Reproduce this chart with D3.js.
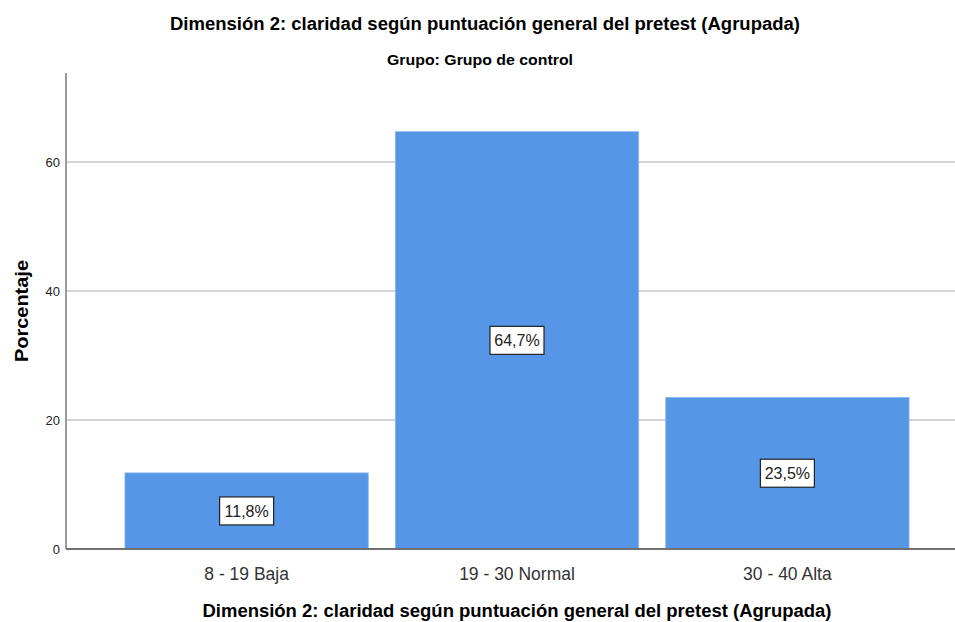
<!DOCTYPE html>
<html>
<head>
<meta charset="utf-8">
<script src="https://cdn.jsdelivr.net/npm/d3@7"></script>
<style>
  body { margin: 0; background: #fff; }
  svg { font-family: "Liberation Sans", Arial, sans-serif; }
</style>
</head>
<body>
<svg id="chart" width="955" height="622"></svg>
<script>
// values
let categories = ["8 - 19 Baja", "19 - 30 Normal", "30 - 40 Alta"]
let percents = [11.8, 64.7, 23.5]
let barLabels = ["11,8%", "64,7%", "23,5%"]
let yTicks = [0, 20, 40, 60]

let title = "Dimensión 2: claridad según puntuación general del pretest (Agrupada)"
let subtitle = "Grupo: Grupo de control"
let yTitle = "Porcentaje"

var svg = d3.select("#chart")

let left = 66
let zeroY = 549
let topY = 73

let y = d3.scaleLinear()
    .domain([0, 73.8])
    .range([zeroY, topY])

// band runs past the right edge, like the cropped original
let x = d3.scaleBand()
    .domain(categories)
    .range([left, 968])
    .paddingInner(0.1)
    .paddingOuter(0.218)

// gridlines
svg.selectAll("line.grid")
    .data(yTicks.filter(d => d > 0))
    .join("line")
    .attr("class", "grid")
    .attr("x1", left)
    .attr("x2", 955)
    .attr("y1", d => y(d))
    .attr("y2", d => y(d))
    .attr("stroke", "#d4d4d4")
    .attr("stroke-width", 2)

// bars
svg.selectAll("rect.bar")
    .data(percents)
    .join("rect")
    .attr("class", "bar")
    .attr("x", (d, i) => x(categories[i]))
    .attr("width", x.bandwidth())
    .attr("y", d => y(d))
    .attr("height", d => zeroY - y(d))
    .attr("fill", "#5596e6")
    .attr("stroke", "#8db7ec")
    .attr("stroke-width", 0.8)

// axes lines
svg.append("line")
    .attr("x1", left).attr("x2", left)
    .attr("y1", topY).attr("y2", zeroY)
    .attr("stroke", "#9a9a9a")
    .attr("stroke-width", 2)

svg.append("line")
    .attr("x1", left).attr("x2", 955)
    .attr("y1", zeroY).attr("y2", zeroY)
    .attr("stroke", "#707070")
    .attr("stroke-width", 2)

// y tick labels
svg.selectAll("text.ytick")
    .data(yTicks)
    .join("text")
    .attr("class", "ytick")
    .attr("x", left - 6)
    .attr("y", d => y(d))
    .attr("dy", "0.35em")
    .attr("text-anchor", "end")
    .attr("font-size", 13)
    .attr("fill", "#222")
    .text(d => d)

// category labels
svg.selectAll("text.xtick")
    .data(categories)
    .join("text")
    .attr("class", "xtick")
    .attr("x", d => x(d) + x.bandwidth() / 2)
    .attr("y", 580)
    .attr("text-anchor", "middle")
    .attr("font-size", 17.5)
    .attr("fill", "#333")
    .text(d => d)

// value boxes in the middle of each bar
let boxes = svg.selectAll("g.vlabel")
    .data(percents)
    .join("g")
    .attr("class", "vlabel")
    .attr("transform", (d, i) => `translate(${x(categories[i]) + x.bandwidth() / 2},${(y(d) + zeroY) / 2})`)

boxes.append("rect")
    .attr("x", -27)
    .attr("y", -14)
    .attr("width", 54)
    .attr("height", 28)
    .attr("fill", "#fff")
    .attr("stroke", "#222")
    .attr("stroke-width", 1.2)

boxes.append("text")
    .attr("text-anchor", "middle")
    .attr("dy", "0.36em")
    .attr("font-size", 16)
    .attr("fill", "#222")
    .text((d, i) => barLabels[i])

// titles
svg.append("text")
    .attr("x", 485)
    .attr("y", 30)
    .attr("text-anchor", "middle")
    .attr("font-size", 18)
    .attr("font-weight", "bold")
    .attr("textLength", 630)
    .attr("lengthAdjust", "spacingAndGlyphs")
    .text(title)

svg.append("text")
    .attr("x", 480)
    .attr("y", 65)
    .attr("text-anchor", "middle")
    .attr("font-size", 14)
    .attr("font-weight", "bold")
    .attr("textLength", 186)
    .attr("lengthAdjust", "spacingAndGlyphs")
    .text(subtitle)

svg.append("text")
    .attr("x", 517)
    .attr("y", 617)
    .attr("text-anchor", "middle")
    .attr("font-size", 18)
    .attr("font-weight", "bold")
    .attr("textLength", 629)
    .attr("lengthAdjust", "spacingAndGlyphs")
    .text(title)

svg.append("text")
    .attr("transform", "translate(28,311) rotate(-90)")
    .attr("text-anchor", "middle")
    .attr("font-size", 18)
    .attr("font-weight", "bold")
    .attr("textLength", 102)
    .attr("lengthAdjust", "spacingAndGlyphs")
    .text(yTitle)
</script>
</body>
</html>
